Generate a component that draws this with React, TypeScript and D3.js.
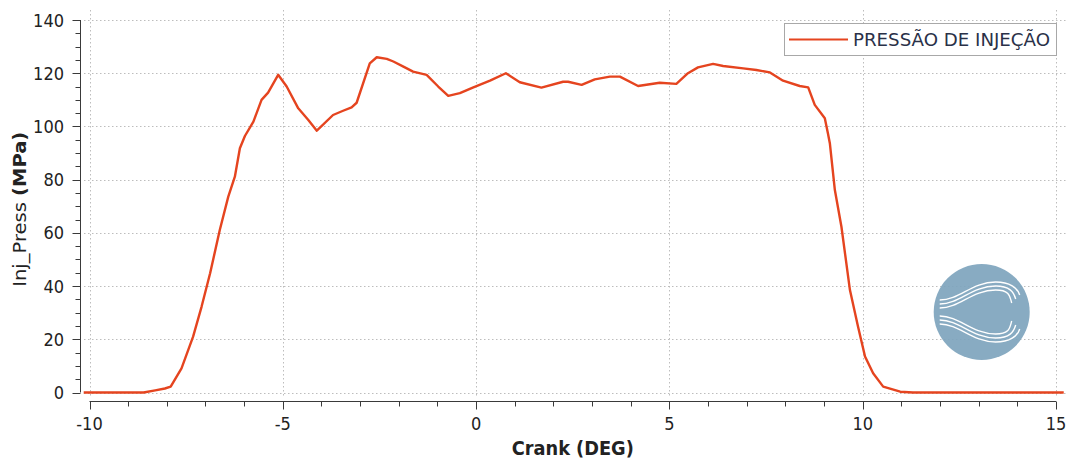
import React from "react";
import * as d3 from "d3";

// Injection pressure trace vs crank angle
const crankDeg: number[] = [
  -10.15, -8.6, -8.3, -8.05, -7.9, -7.62, -7.32, -7.1, -6.88, -6.63, -6.41, -6.24,
  -6.11, -5.98, -5.76, -5.55, -5.38, -5.12, -4.9, -4.6, -4.34, -4.12, -3.7, -3.44,
  -3.22, -3.09, -2.75, -2.57, -2.31, -2.14, -1.88, -1.63, -1.28, -0.98, -0.72, -0.42,
  -0.07, 0.36, 0.77, 1.13, 1.69, 2.25, 2.38, 2.73, 3.07, 3.46, 3.72, 4.19,
  4.75, 5.18, 5.48, 5.74, 6.13, 6.39, 6.91, 7.25, 7.6, 7.94, 8.37, 8.59,
  8.76, 9.02, 9.1, 9.15, 9.28, 9.45, 9.67, 9.88, 10.06, 10.27, 10.53, 10.97, 11.3, 15.2,
];
const injPressMPa: number[] = [
  0, 0, 0.8, 1.5, 2.2, 9.1, 21, 32.3, 44.8, 61.1, 73.6, 81.1,
  91.8, 96.4, 101.8, 110, 112.7, 119.4, 115, 106.8, 102.4, 98.4, 104.3, 105.9,
  107.2, 108.9, 123.7, 126, 125.4, 124.4, 122.5, 120.6, 119.4, 115, 111.5, 112.5,
  114.7, 117.2, 120, 116.6, 114.6, 116.8, 116.8, 115.6, 117.7, 118.7, 118.7, 115.2,
  116.4, 116, 120, 122.2, 123.5, 122.7, 121.8, 121.2, 120.3, 117.2, 115.2, 114.7,
  108.1, 103.1, 97.4, 93.7, 76.1, 62.3, 38.5, 24.7, 13.5, 7.2, 2.2, 0.3, 0, 0,
];

const xMajorTicks: number[] = [-10, -5, 0, 5, 10, 15];
const yMajorTicks: number[] = [0, 20, 40, 60, 80, 100, 120, 140];
const seriesName = "PRESSÃO DE INJEÇÃO";
const xTitle = "Crank (DEG)";
const yTitleName = "Inj_Press ";
const yTitleUnit = "(MPa)";

const W = 1069;
const H = 459;
const FONT = "'DejaVu Sans Condensed', 'DejaVu Sans', sans-serif";
const FONT_WIDE = "'DejaVu Sans', sans-serif";
const LINE_COLOR = "#e5441f";
const AXIS_COLOR = "#3a3a3a";
const GRID_COLOR = "#bdbdbd";
const TEXT_COLOR = "#222";

export default function App() {
  const x = d3.scaleLinear().domain([-10, 15]).range([89.5, 1056]);
  const y = d3.scaleLinear().domain([0, 140]).range([392.5, 20]);

  const pts = crankDeg.map((c, i) => [c, injPressMPa[i]] as [number, number]);
  const line = d3
    .line<[number, number]>()
    .x((d) => x(d[0]))
    .y((d) => y(d[1]))
    .curve(d3.curveLinear);

  const xMinor = d3.range(-10, 15.001, 1);
  const yMinor = d3.range(0, 140.001, 5);

  const xAxisY = 401.5;
  const yAxisX = 80.5;

  // logo geometry
  const cx = 981.7;
  const cy = 312;
  const offsets = [0, 4, 8];

  return (
    <svg
      width={W}
      height={H}
      style={{ position: "absolute", left: 0, top: 0, background: "#fff" }}
      fontFamily={FONT}
    >
      <rect x={0} y={0} width={W} height={H} fill="#fff" />

      {/* grid */}
      <g stroke={GRID_COLOR} strokeWidth={1} strokeDasharray="1.5 2.5">
        {yMajorTicks.map((t) => (
          <line key={"gy" + t} x1={84} x2={1066} y1={Math.round(y(t)) + 0.5} y2={Math.round(y(t)) + 0.5} />
        ))}
        {xMajorTicks.map((t) => (
          <line key={"gx" + t} x1={Math.round(x(t)) + 0.5} x2={Math.round(x(t)) + 0.5} y1={10} y2={396} />
        ))}
      </g>

      {/* logo */}
      <g opacity={0.93}>
        <circle cx={cx} cy={cy} r={48} fill="#7fa5be" />
        <g fill="none" stroke="#fff" strokeWidth={1.4}>
          {offsets.map((o) => (
            <path
              key={"u" + o}
              d={`M ${cx - 42} ${cy - 12 + o} C ${cx - 22} ${cy - 12 + o}, ${cx - 10} ${cy - 30 + o}, ${cx + 14} ${cy - 30 + o} C ${cx + 28} ${cy - 30 + o}, ${cx + 36 - o} ${cy - 24 + o}, ${cx + 38 - o} ${cy - 17 + o}`}
            />
          ))}
          {offsets.map((o) => (
            <path
              key={"l" + o}
              d={`M ${cx - 42} ${cy + 12 - o} C ${cx - 22} ${cy + 12 - o}, ${cx - 10} ${cy + 30 - o}, ${cx + 14} ${cy + 30 - o} C ${cx + 28} ${cy + 30 - o}, ${cx + 36 - o} ${cy + 24 - o}, ${cx + 38 - o} ${cy + 17 - o}`}
            />
          ))}
        </g>
      </g>

      {/* data line */}
      <path d={line(pts) ?? ""} fill="none" stroke={LINE_COLOR} strokeWidth={2.4} strokeLinejoin="round" />

      {/* y axis */}
      <g stroke={AXIS_COLOR} strokeWidth={1}>
        <line x1={yAxisX} x2={yAxisX} y1={y(140)} y2={y(0)} />
        {yMinor.map((t) => (
          <line
            key={"ym" + t}
            x1={t % 20 === 0 ? yAxisX - 8 : yAxisX - 5}
            x2={yAxisX}
            y1={Math.round(y(t)) + 0.5}
            y2={Math.round(y(t)) + 0.5}
          />
        ))}
      </g>
      <g fill={TEXT_COLOR} fontSize={18} textAnchor="end">
        {yMajorTicks.map((t) => (
          <text key={"yl" + t} x={64} y={y(t) + 6.5}>
            {t}
          </text>
        ))}
      </g>

      {/* x axis */}
      <g stroke={AXIS_COLOR} strokeWidth={1}>
        <line x1={x(-10)} x2={x(15)} y1={xAxisY} y2={xAxisY} />
        {xMinor.map((t) => (
          <line
            key={"xm" + t}
            x1={Math.round(x(t)) + 0.5}
            x2={Math.round(x(t)) + 0.5}
            y1={xAxisY}
            y2={t % 5 === 0 ? xAxisY + 8 : xAxisY + 5}
          />
        ))}
      </g>
      <g fill={TEXT_COLOR} fontSize={18} textAnchor="middle">
        {xMajorTicks.map((t) => (
          <text key={"xl" + t} x={x(t)} y={430}>
            {t}
          </text>
        ))}
      </g>

      {/* axis titles */}
      <text
        x={(x(-10) + x(15)) / 2}
        y={455}
        textAnchor="middle"
        fontSize={19}
        fontWeight="bold"
        fill={TEXT_COLOR}
        textLength={122}
        lengthAdjust="spacingAndGlyphs"
      >
        {xTitle}
      </text>
      <text
        transform={`translate(26, ${(y(0) + y(140)) / 2 + 3}) rotate(-90)`}
        textAnchor="middle"
        fontSize={18}
        fontFamily={FONT_WIDE}
        fill={TEXT_COLOR}
        textLength={155}
        lengthAdjust="spacingAndGlyphs"
      >
        {yTitleName}
        <tspan fontWeight="bold">{yTitleUnit}</tspan>
      </text>

      {/* legend */}
      <g>
        <rect x={784.5} y={23.5} width={272} height={32} fill="#fff" stroke="#a8a8a8" strokeWidth={1} />
        <line x1={789} x2={848} y1={39.5} y2={39.5} stroke={LINE_COLOR} strokeWidth={2.2} />
        <text x={853} y={46} fontSize={17} fontFamily={FONT_WIDE} fill="#2a3148" textLength={197} lengthAdjust="spacingAndGlyphs">
          {seriesName}
        </text>
      </g>
    </svg>
  );
}
